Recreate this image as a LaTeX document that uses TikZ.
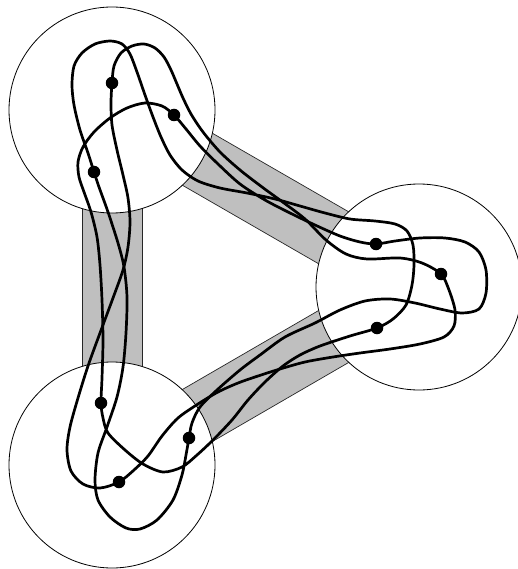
\documentclass[tikz,border=0pt]{standalone}
\begin{document}
\begin{tikzpicture}[x=1pt,y=-1pt,
  disk/.style={circle,draw=black,line width=0.8pt,fill=white,minimum size=206pt,inner sep=0pt,outer sep=0pt},
  band/.style={fill=black!25,draw=black!85,line width=0.7pt},
  strand/.style={line width=2.7pt,line join=round},
  dot/.style={circle,fill=black,minimum size=12.5pt,inner sep=0pt}]
\useasboundingbox (0,0) rectangle (517,569);
% bands
\filldraw[band] (127,84) -- (434,261) -- (404,313) -- (97,136) -- cycle;
\filldraw[band] (434,313) -- (127,491) -- (97,439) -- (404,261) -- cycle;
\filldraw[band] (82,110) rectangle (142,465);
% disks
\node[disk] (CT) at (112,110) {};
\node[disk] (CR) at (419,287) {};
\node[disk] (CB) at (112,465) {};
% dot positions
\coordinate (a1) at (112,83);
\coordinate (a2) at (441,274);
\coordinate (a3) at (119,482);
\coordinate (b1) at (174,115);
\coordinate (b2) at (376,244);
\coordinate (b3) at (189,438);
\coordinate (b4) at (94,172);
\coordinate (b5) at (377,328);
\coordinate (b6) at (101,403);
% curve A
\draw[strand] plot[smooth cycle,tension=0.5] coordinates {
 (a1) (114,66) (121,53) (132,46) (144,44) (155,48) (164,57) (171,70) (177,84)
 (183,98) (191,114) (203,132) (220,152) (240,170) (262,187) (284,203) (305,219)
 (326,240) (346,254) (367,259) (400,258) (422,263) (a2) (449,290) (455,310)
 (454,326) (444,337) (420,344) (390,349) (360,353) (333,357) (305,362) (280,369)
 (258,376) (238,383) (218,392) (198,404) (178,418) (162,436) (148,456) (134,470)
 (a3) (100,488) (83,484) (71,471) (67,450) (70,427) (78,398) (88,366) (100,333)
 (113,298) (123,270) (128,247) (130,222) (128,198) (123,175) (117,150) (112,125)
 (111,103)};
% curve BC
\draw[strand] plot[smooth cycle,tension=0.5] coordinates {
 (b1) (186,129) (200,146) (218,164) (240,184) (265,200) (290,213) (315,225)
 (340,236) (360,242) (b2) (395,241) (420,238) (445,238) (465,242) (479,252)
 (486,270) (486,293) (479,309) (462,313) (440,309) (415,303) (390,299) (365,301)
 (340,310) (315,323) (285,337) (260,355) (240,370) (217,390) (200,407) (192,423)
 (b3) (186,455) (182,475) (173,500) (157,520) (140,529) (126,528) (110,517)
 (98,500) (95,480) (98,453) (107,427) (117,397) (123,367) (126,333) (127,297)
 (124,267) (118,243) (108,212) (99,187) (b4) (88,153) (80,130) (74,105) (72,85)
 (74,66) (82,53) (95,44) (110,41) (122,44) (130,54) (137,72) (145,95) (153,117)
 (161,137) (170,155) (182,170) (198,181) (220,188) (247,193) (275,199) (300,206)
 (325,213) (350,219) (375,221) (395,224) (407,231) (413,245) (414,265) (412,285)
 (406,305) (393,319) (b5) (350,336) (320,346) (300,355) (283,366) (265,382)
 (248,400) (232,420) (213,440) (197,455) (182,467) (163,472) (143,464) (125,450)
 (108,433) (103,418) (b6) (102,378) (103,340) (102,300) (100,265) (97,237)
 (91,212) (84,192) (79,177) (78,162) (83,147) (94,132) (110,118) (127,108)
 (145,103) (162,106)};
% dots
\foreach \p in {a1,a2,a3,b1,b2,b3,b4,b5,b6}
  \node[dot] (d\p) at (\p) {};
\end{tikzpicture}
\end{document}
